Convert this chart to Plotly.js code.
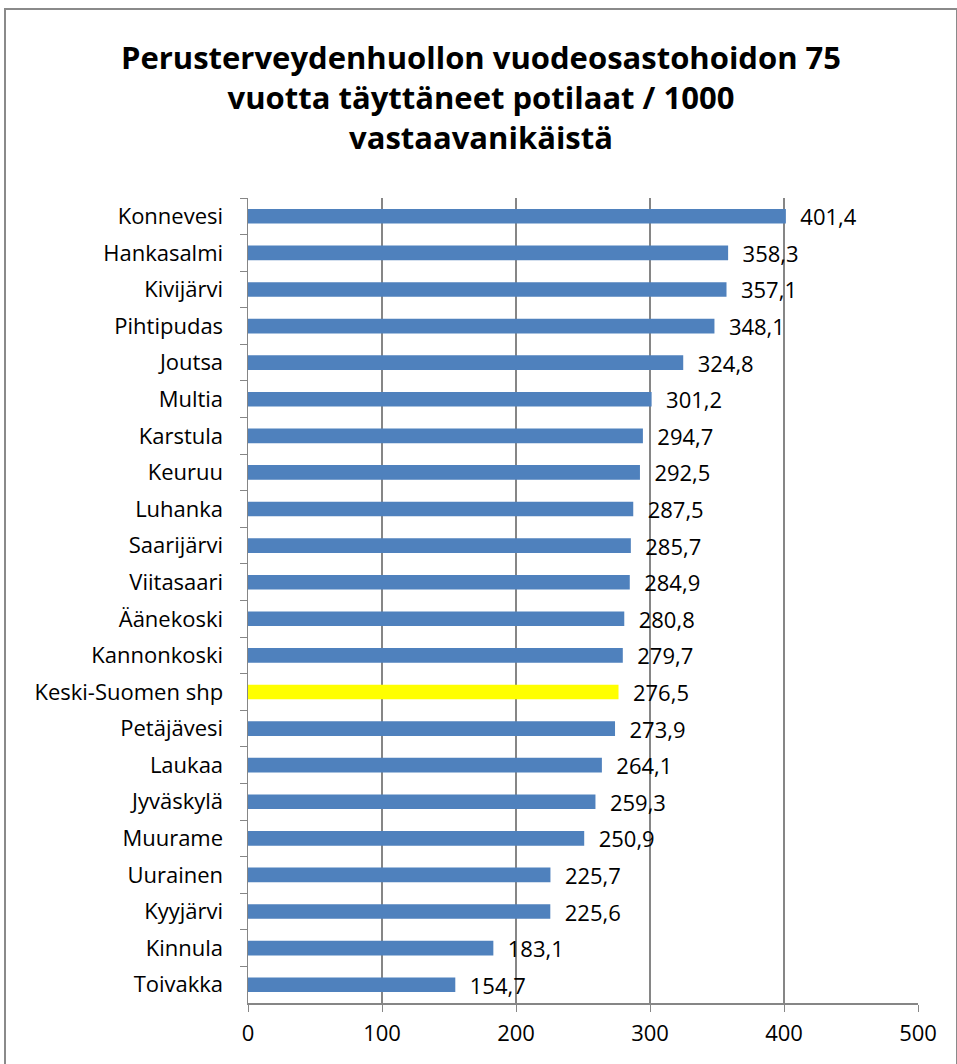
<!DOCTYPE html>
<html>
<head>
<meta charset="utf-8">
<script src="https://cdn.plot.ly/plotly-3.0.1.min.js"></script>
<style>
html,body{margin:0;padding:0;background:#fff;overflow:hidden;}
#frame{position:absolute;left:4px;top:8px;width:950px;height:1070px;border:2px solid #8a8a8a;}
#chart{width:950px;height:1070px;}
</style>
</head>
<body>
<div id="frame"><div id="chart"></div></div>
<script>
const categories = ["Konnevesi","Hankasalmi","Kivijärvi","Pihtipudas","Joutsa","Multia","Karstula","Keuruu","Luhanka","Saarijärvi","Viitasaari","Äänekoski","Kannonkoski","Keski-Suomen shp","Petäjävesi","Laukaa","Jyväskylä","Muurame","Uurainen","Kyyjärvi","Kinnula","Toivakka"];
const values = [401.4,358.3,357.1,348.1,324.8,301.2,294.7,292.5,287.5,285.7,284.9,280.8,279.7,276.5,273.9,264.1,259.3,250.9,225.7,225.6,183.1,154.7];
const highlight = "Keski-Suomen shp";
const xTicks = [0,100,200,300,400,500];

const colors = categories.map(c => c === highlight ? "#FFFF00" : "#4F81BD");
const labels = values.map(v => "\u00a0\u00a0" + v.toFixed(1).replace(".", ","));

const trace = {
  type: "bar",
  orientation: "h",
  y: categories,
  x: values,
  text: labels,
  textposition: "outside",
  constraintext: "none",
  cliponaxis: false,
  textfont: {family: "Open Sans, sans-serif", size: 22, color: "#000"},
  marker: {color: colors, line: {width: 0}},
  hoverinfo: "none"
};

const layout = {
  width: 950, height: 1070,
  margin: {l: 242, r: 38, t: 188, b: 77},
  paper_bgcolor: "#fff", plot_bgcolor: "#fff",
  bargap: 0.6,
  showlegend: false,
  title: {
    text: "<b>Perusterveydenhuollon vuodeosastohoidon 75<br>vuotta täyttäneet potilaat / 1000<br>vastaavanikäistä</b>",
    font: {family: "Open Sans, sans-serif", size: 31, color: "#000"},
    x: 0.5, xanchor: "center", y: 0.945, yanchor: "top"
  },
  xaxis: {
    range: [0, 500],
    tickvals: xTicks,
    ticktext: xTicks.map(String),
    showgrid: true, gridcolor: "#868686", gridwidth: 1.5,
    showline: true, linecolor: "#868686", linewidth: 1.5,
    ticks: "outside", ticklen: 7, tickcolor: "#868686",
    tickfont: {family: "Open Sans, sans-serif", size: 22, color: "#000"},
    zeroline: false, mirror: false, fixedrange: true, ticklabelstandoff: 3
  },
  yaxis: {
    autorange: "reversed",
    showline: true, linecolor: "#868686", linewidth: 1.5,
    ticks: "outside", ticklen: 7, tickcolor: "#868686", tickson: "boundaries",
    tickfont: {family: "Open Sans, sans-serif", size: 22, color: "#000"},
    showgrid: false, fixedrange: true, ticklabelstandoff: 19
  }
};

Plotly.newPlot("chart", [trace], layout, {displayModeBar: false, staticPlot: true});
</script>
</body>
</html>
